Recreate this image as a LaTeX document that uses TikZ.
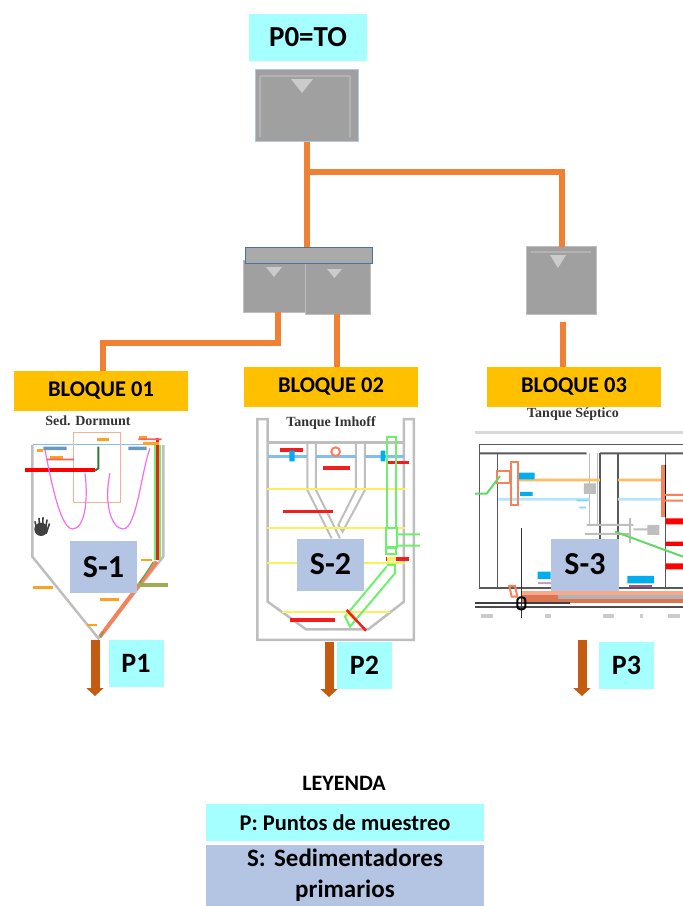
\documentclass[tikz,border=0pt]{standalone}
\usepackage{fontspec}
\setmainfont{Carlito}
\newfontfamily\titlefont{Liberation Serif}
\usetikzlibrary{arrows.meta,positioning}
\definecolor{lcyan}{RGB}{166,255,255}
\definecolor{lsteel}{RGB}{180,197,228}
\definecolor{lgold}{RGB}{255,192,0}
\definecolor{lorange}{RGB}{240,128,52}
\definecolor{lbrown}{RGB}{197,90,17}
\definecolor{lgrey}{RGB}{160,160,160}
\definecolor{lwall}{RGB}{190,190,190}
\definecolor{lpink}{RGB}{245,110,240}
\definecolor{lgreen}{RGB}{110,240,110}
\definecolor{lsalmon}{RGB}{245,130,90}
\definecolor{lmark}{RGB}{255,160,30}
\definecolor{lred}{RGB}{240,30,30}
\definecolor{lyellow}{RGB}{250,240,90}
\definecolor{lblue}{RGB}{130,190,240}
\definecolor{lframe}{RGB}{74,116,160}
\tikzset{
    tag/.style={
        rectangle, inner sep=0pt,
        font=\bfseries, text=black
    },
    pbox/.style={
        tag, fill=lcyan,
        minimum width=#1, minimum height=47pt, font=\bfseries\fontsize{28}{30}\selectfont
    },
    pbox/.default=55pt,
    sbox/.style={
        tag, fill=lsteel,
        minimum width=67pt, minimum height=52pt, font=\bfseries\fontsize{32}{34}\selectfont
    },
    bloque/.style={
        tag, fill=lgold,
        minimum width=174pt, minimum height=40pt, font=\bfseries\fontsize{22.5}{24}\selectfont
    },
    tanktitle/.style={
        inner sep=0pt, font=\titlefont\bfseries\fontsize{14}{16}\selectfont, text=black!80
    },
    tank/.style={
        rectangle, inner sep=0pt, fill=lgrey, draw=lwall, line width=1pt,
        minimum width=#1
    },
    pipe/.style={
        line width=6pt, draw=lorange
    },
    outflow/.style={
        line width=9pt, draw=lbrown,
        -{Triangle[width=17pt,length=8pt]}
    },
    wall/.style={
        line width=2.5pt, draw=lwall
    },
    detail1/.style={
        shift={(0,400)}, x=0.3333pt, y=-0.3333pt
    },
    detail2/.style={
        shift={(230,400)}, x=0.3333pt, y=-0.3333pt
    },
    detail3/.style={
        shift={(460,400)}, x=0.3333pt, y=-0.3333pt
    }
}
\begin{document}
\begin{tikzpicture}[x=1pt,y=-1pt]
    \useasboundingbox (0,0) rectangle (683,906);

    % tanks
    \node (p0) [pbox=118pt, font=\bfseries\fontsize{29}{31}\selectfont] at (308,37.5) {P0=TO};
    \node (tank0) [tank=103pt, minimum height=72pt, draw=lsteel] at (306.5,105) {};
    \node (tank1) [tank=62pt, minimum height=52pt] at (274,286) {};
    \node (tank2) [tank=65pt, minimum height=52pt] at (337.5,288) {};
    \node (bar) [tank=127pt, minimum height=16pt, fill=lgrey!90!white, draw=lframe] at (308.5,255) {};
    \node (tank3) [tank=70pt, minimum height=68pt] at (561,280) {};
    \draw [lgrey!80!white, line width=2pt] (260,76) -- (350,76) (260,76) -- (260,137) (350,76) -- (350,137);
    \draw [lgrey!80!white, line width=1.5pt] (531,252) -- (591,252);
    \foreach \tx/\ty/\tw/\th in {302/79/11/14, 274/267/8/10, 334.5/269/7.5/9, 558/255/8/13}
        \fill [lgrey!55!white] (\tx-\tw,\ty) -- (\tx+\tw,\ty) -- (\tx,\ty+\th) -- cycle;

    % titles and blocks
    \node (b1) [bloque] at (101,391) {BLOQUE 01};
    \node (b2) [bloque] at (331,387) {BLOQUE 02};
    \node (b3) [bloque] at (574,387) {BLOQUE 03};
    \node (t1) [tanktitle] at (88,421) {Sed. Dormunt};
    \node (t2) [tanktitle] at (331,423) {Tanque Imhoff};
    \node (t3) [tanktitle] at (573,414) {Tanque Séptico};

    % pipes
    \coordinate (t3out) at (563,322);
    \draw [pipe] (tank0.south -| 307,0) -- (307,247);
    \draw [pipe] (307,172) -| (562,247);
    \draw [pipe] (278,312) |- (103,343) -- (b1.north -| 103,0);
    \draw [pipe] (337,314) -- (b2.north -| 337,0);
    \draw [pipe] (t3out) -- (b3.north -| t3out);

    % sedimentador 1
    \begin{scope}[detail1]
        \draw [wall] (97,135) -- (97,470) -- (295,715) -- (490,470) -- (490,135);
        \fill [lblue] (100,132) rectangle (470,136);
        \fill [lblue!80!black] (130,140) rectangle (200,150) (385,140) rectangle (440,150);
        \draw [line width=1pt, lsalmon!70!brown!60] (222,98) -- (362,98) -- (362,307) -- (222,307) -- cycle;
        \fill [red] (75,203) rectangle (285,216);
        \draw [line width=2pt, lgreen!50!black] (295,140) -- (295,205) -- (285,212);
        \draw [line width=1.2pt, lpink] (135,150) .. controls (160,280) and (185,385) .. (218,387)
            .. controls (255,385) and (265,300) .. (255,220);
        \draw [line width=1.2pt, lpink] (330,220) .. controls (310,310) and (335,387) .. (370,387)
            .. controls (410,385) and (425,210) .. (450,145);
        \fill [lgreen] (462,135) rectangle (484,480);
        \fill [lred] (468,115) rectangle (478,480);
        \draw [line width=4pt, lsalmon] (470,485) -- (300,710);
        \draw [line width=1pt, lgreen!70!black] (460,485) -- (415,555) (300,712) -- (310,695);
        \fill [lgreen!40!brown] (415,550) rectangle (505,562);
        \foreach \xa/\xb/\ya in {110/130/152, 150/190/172, 100/160/563, 300/358/598, 422/455/480, 290/328/118, 262/292/675, 428/478/130, 418/440/113}
            \fill [lmark] (\xa,\ya-4) rectangle (\xb,\ya+4);
        \fill [lred!70] (140,176) rectangle (222,181) (415,115) rectangle (485,120);
        % mano
        \fill [black!75] (123,388) circle [radius=20];
        \foreach \ha/\hb in {105/365, 117/355, 129/353, 141/360, 148/372}
            \draw [black!75, line width=1.6pt, line cap=round] (\ha*0.6+50,400) -- (\ha,\hb);
    \end{scope}

    % sedimentador 2
    \begin{scope}[detail2]
        \draw [wall] (113,128) -- (113,57) -- (82,57) -- (82,720) -- (552,720) -- (552,57) -- (522,57) -- (522,605)
            -- (415,688) -- (228,688) -- (113,605) -- cycle;
        \draw [wall] (113,128) -- (522,128);
        \draw [wall, line width=2pt] (232,128) -- (232,270) -- (305,415) (258,128) -- (258,270) -- (330,415);
        \draw [wall, line width=2pt] (378,128) -- (378,270) -- (325,375) -- (338,395) -- (405,270) -- (405,128);
        \foreach \xa/\xb in {113/232, 258/378, 405/522}
            \fill [lblue] (\xa,166) rectangle (\xb,174);
        \foreach \ya in {267,385,490}
            \fill [lyellow] (110,\ya-3) rectangle (525,\ya+3);
        \fill [lyellow] (155,632) rectangle (480,638);
        \foreach \xa/\xb/\ya in {150/220/150, 280/360/204, 160/310/335, 180/315/660, 468/538/187, 468/538/477}
            \fill [lred] (\xa,\ya-5) rectangle (\xb,\ya+5);
        \fill [cyan] (178,152) rectangle (194,184) (452,152) rectangle (466,184);
        \draw [line width=2pt, lsalmon] (317,155) circle [radius=13];
        \draw [line width=2pt, lgreen] (472,112) -- (497,112) -- (497,385) -- (472,385) -- cycle;
        \draw [line width=2pt, lgreen] (468,385) -- (502,385) -- (502,440) -- (468,440) -- cycle;
        \fill [lgreen] (502,400) rectangle (570,406) (502,434) rectangle (570,440);
        \draw [line width=2pt, lgreen] (468,445) -- (498,445) -- (498,462) -- (468,462) -- cycle;
        \draw [line width=2pt, lgreen] (470,500) -- (345,650) -- (360,680) -- (495,520) -- (495,495) -- (470,495);
        \fill [lyellow] (470,472) rectangle (498,484);
        \draw [line width=4pt, lyellow] (352,640) -- (375,655);
        \draw [line width=2.5pt, lred] (350,630) -- (408,692);
    \end{scope}

    % sedimentador 3
    \begin{scope}[detail3]
        \fill [black!15] (45,94) rectangle (669,103);
        \draw [line width=1.5pt, black!65] (669,133) -- (58,133) -- (58,565);
        \fill [black!65] (58,157) rectangle (380,163) (420,157) rectangle (669,163);
        \foreach \xa in {112,420,474,617}
            \draw [line width=1.5pt, black!65] (\xa,160) -- (\xa,565);
        \draw [wall, line width=1.5pt] (388,160) -- (388,375) (412,160) -- (412,375);
        \draw [wall, line width=1.5pt] (510,355) -- (510,428);
        \fill [lwall] (380,372) rectangle (520,378) (375,399) rectangle (510,405) (520,385) rectangle (570,391);
        \fill [lwall] (372,250) rectangle (408,282) (562,375) rectangle (598,405);
        \fill [lmark!70] (175,236) rectangle (420,244) (474,236) rectangle (610,244);
        \fill [cyan!30] (115,294) rectangle (388,302) (474,294) rectangle (610,302);
        \fill [cyan] (175,218) rectangle (224,238) (180,276) rectangle (218,288) (233,515) rectangle (272,537) (502,528) rectangle (582,550);
        \fill [cyan!50] (350,299) rectangle (385,304) (358,320) rectangle (378,325);
        \fill [violet!70] (508,554) rectangle (575,566);
        \fill [violet!40] (235,546) rectangle (272,553);
        \draw [line width=2pt, lsalmon] (154,185) -- (174,185) -- (174,315) -- (154,315) -- cycle;
        \draw [line width=2pt, lsalmon] (112,212) -- (150,212) -- (150,248) -- (112,248) -- cycle;
        \draw [line width=2pt, lgreen!90!black] (45,281) -- (80,281) -- (120,228);
        \draw [line width=2pt, lgreen!90!black] (465,395) -- (669,470);
        \fill [lsalmon] (604,195) rectangle (616,350);
        \draw [line width=1pt, black] (617,195) -- (617,350);
        \fill [lsalmon] (610,282) rectangle (669,288) (610,299) rectangle (669,305);
        \fill [red] (617,355) rectangle (669,373) (617,425) rectangle (669,438) (617,490) rectangle (669,508);
        \fill [black!65] (58,562) rectangle (669,568);
        \fill [lsalmon!70] (185,574) rectangle (669,584);
        \fill [lsalmon!90!black] (185,585) rectangle (295,596);
        \fill [black!30] (295,585) rectangle (669,596);
        \fill [lsalmon!90!black] (185,597) rectangle (669,610);
        \fill [black!75] (45,605) rectangle (330,611);
        \fill [black!70] (45,619) rectangle (669,625);
        \draw [line width=1.2pt, black!80] (184,385) -- (184,655);
        \draw [line width=2pt, black, rounded corners=3pt] (172,592) -- (196,592) -- (196,628) -- (172,628) -- cycle;
        \draw [line width=2pt, lsalmon] (148,558) -- (165,558) -- (172,590) -- (155,590) -- cycle;
        \foreach \xa/\xb in {62/100, 255/272, 428/462, 540/550, 625/660}
            \fill [black!20] (\xa,642) rectangle (\xb,654);
    \end{scope}

    % sample boxes
    \node (s1) [sbox] at (103.5,567) {S-1};
    \node (s2) [sbox] at (330.5,564.5) {S-2};
    \node (s3) [sbox, minimum width=68pt] at (585,564.5) {S-3};
    \node (p1) [pbox] at (136,663.5) {P1};
    \node (p2) [pbox] at (364.5,665.5) {P2};
    \node (p3) [pbox] at (626.5,665.5) {P3};
    \coordinate (out1) at (95,696);
    \coordinate (out2) at (329,697);
    \coordinate (out3) at (582,696);
    \draw [outflow] (95,640) -- (out1);
    \draw [outflow] (329,642) -- (out2);
    \draw [outflow] (582,640) -- (out3);

    % legend
    \node (ley) [tag, font=\bfseries\fontsize{22}{24}\selectfont] at (344,783) {LEYENDA};
    \node (lp) [tag, fill=lcyan, minimum width=278pt, minimum height=37pt, font=\bfseries\fontsize{22.5}{24}\selectfont] at (345,822.5) {P: Puntos de muestreo};
    \node (ls) [tag, fill=lsteel, minimum width=278pt, minimum height=61pt, text width=278pt, align=center, font=\bfseries\fontsize{25}{31}\selectfont] at (345,875.5) {S: Sedimentadores\\primarios};
\end{tikzpicture}
\end{document}
